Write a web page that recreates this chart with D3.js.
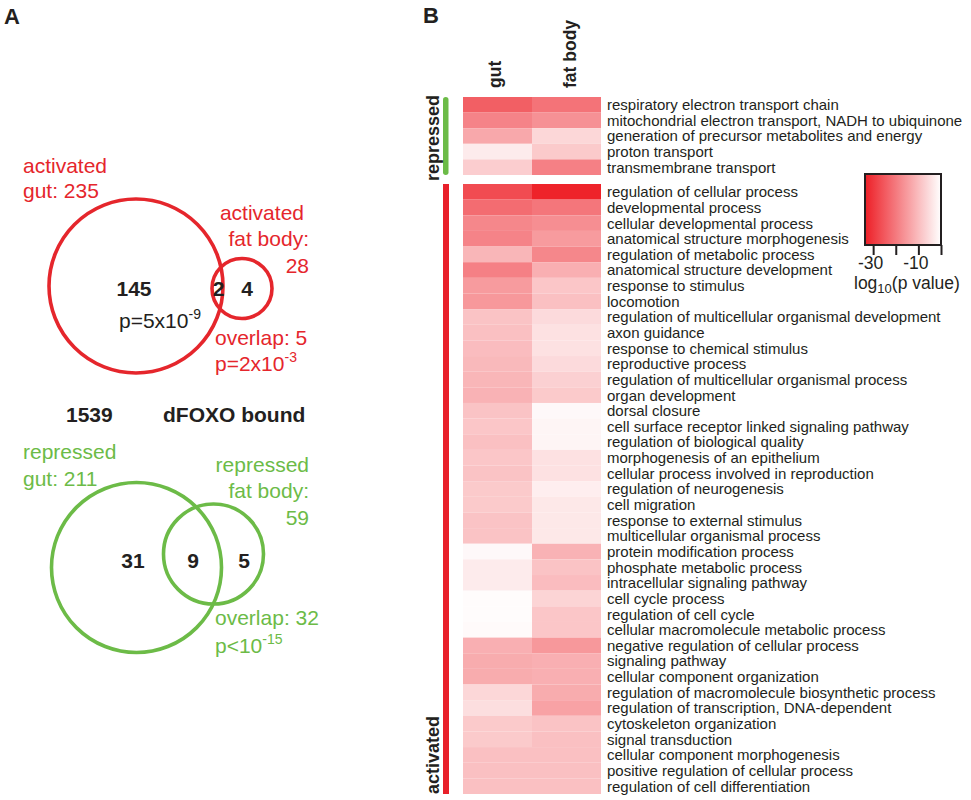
<!DOCTYPE html>
<html>
<head>
<meta charset="utf-8">
<script src="https://cdn.jsdelivr.net/npm/d3@7"></script>
<style>
  html, body { margin: 0; padding: 0; background: #ffffff; }
  svg { display: block; font-family: "Liberation Sans", Arial, Helvetica, sans-serif; }
</style>
</head>
<body>
<svg id="chart" width="971" height="800"></svg>
<script>
// ---------------- DATA ----------------
const columns = ["gut", "fat body"];

const repressedTerms = [
  "respiratory electron transport chain",
  "mitochondrial electron transport, NADH to ubiquinone",
  "generation of precursor metabolites and energy",
  "proton transport",
  "transmembrane transport"
];
const repressedGut = [-24, -18.5, -13, -3, -7.5];
const repressedFat = [-21, -16.5, -6, -8, -19];

const activatedTerms = [
  "regulation of cellular process",
  "developmental process",
  "cellular developmental process",
  "anatomical structure morphogenesis",
  "regulation of metabolic process",
  "anatomical structure development",
  "response to stimulus",
  "locomotion",
  "regulation of multicellular organismal development",
  "axon guidance",
  "response to chemical stimulus",
  "reproductive process",
  "regulation of multicellular organismal process",
  "organ development",
  "dorsal closure",
  "cell surface receptor linked signaling pathway",
  "regulation of biological quality",
  "morphogenesis of an epithelium",
  "cellular process involved in reproduction",
  "regulation of neurogenesis",
  "cell migration",
  "response to external stimulus",
  "multicellular organismal process",
  "protein modification process",
  "phosphate metabolic process",
  "intracellular signaling pathway",
  "cell cycle process",
  "regulation of cell cycle",
  "cellular macromolecule metabolic process",
  "negative regulation of cellular process",
  "signaling pathway",
  "cellular component organization",
  "regulation of macromolecule biosynthetic process",
  "regulation of transcription, DNA-dependent",
  "cytoskeleton organization",
  "signal transduction",
  "cellular component morphogenesis",
  "positive regulation of cellular process",
  "regulation of cell differentiation"
];
const activatedGut = [-27, -22, -18, -18.5, -11, -19, -15, -15.5, -9, -9.5, -10, -10.5, -11, -11.5,
  -9, -8.5, -9.5, -8.5, -9, -8, -8, -9, -9, -1, -3, -3, -0.5, -0.5, -0.8,
  -12, -12.5, -12.5, -6, -5, -8, -8, -9.5, -9.5, -9.5];
const activatedFat = [-33, -20.5, -17, -15, -18, -12, -8.5, -9.5, -5.5, -4.5, -4.5, -5.5, -7, -8,
  -1, -1.5, -1.5, -4.5, -4.5, -2.5, -3.5, -3.5, -3.5, -11.5, -9, -10, -6.5, -8.5, -8.5,
  -15.5, -12, -12, -12.5, -14, -9, -9.5, -9.5, -9.5, -9.5];

const legendTicks = [-30, -20, -10, 0];
const legendTickLabels = ["-30", "", "-10", ""];

// Venn diagrams
const activatedSetTotals = [235, 28];     // gut, fat body
const activatedRegionCounts = [145, 2, 4]; // gut only, both, fat only
const activatedOverlap = 5;
const repressedSetTotals = [211, 59];
const repressedRegionCounts = [31, 9, 5];
const repressedOverlap = 32;
const boundTotal = 1539;

// ---------------- STYLE / LAYOUT ----------------
const RED = "#e5262c";
const GREEN = "#6cbb47";
const INK = "#231f20";
const svg = d3.select("#chart");

// ---------------- PANEL A (Venn) ----------------
svg.append("text").attr("x", 4).attr("y", 24).attr("font-size", 22).attr("font-weight", "bold")
  .attr("fill", INK).text("A");

function sup(sel, base, supTxt, x, y, color) {
  const t = sel.append("text").attr("x", x).attr("y", y).attr("font-size", 21).attr("fill", color);
  t.append("tspan").text(base);
  t.append("tspan").attr("font-size", 14).attr("dy", -9).text(supTxt);
}

// activated venn
const actCircles = [
  {cx: 136, cy: 286, r: 87},
  {cx: 242, cy: 288.5, r: 30}
];
svg.selectAll("circle.act").data(actCircles).join("circle").attr("class", "act")
  .attr("cx", d => d.cx).attr("cy", d => d.cy).attr("r", d => d.r)
  .attr("fill", "none").attr("stroke", RED).attr("stroke-width", 3.6);

const gA = svg.append("g").attr("font-size", 21).attr("fill", RED);
gA.append("text").attr("x", 23).attr("y", 173).text("activated");
gA.append("text").attr("x", 23).attr("y", 198).text("gut: " + activatedSetTotals[0]);
gA.append("text").attr("x", 304).attr("y", 220).attr("text-anchor", "end").text("activated");
gA.append("text").attr("x", 309).attr("y", 246).attr("text-anchor", "end").text("fat body:");
gA.append("text").attr("x", 309).attr("y", 273).attr("text-anchor", "end").text(activatedSetTotals[1]);
gA.append("text").attr("x", 215).attr("y", 345).text("overlap: " + activatedOverlap);
sup(svg, "p=2x10", "-3", 215, 371, RED);

const actNumX = [134, 218.5, 247];
svg.selectAll("text.actn").data(activatedRegionCounts).join("text").attr("class", "actn")
  .attr("x", (d, i) => actNumX[i]).attr("y", 296).attr("text-anchor", "middle")
  .attr("font-size", 21).attr("font-weight", "bold").attr("fill", INK).text(d => d);
sup(svg, "p=5x10", "-9", 119, 328, INK);

// bound
svg.append("text").attr("x", 66).attr("y", 422).attr("font-size", 21).attr("font-weight", "bold")
  .attr("fill", INK).text(boundTotal);
svg.append("text").attr("x", 163).attr("y", 422).attr("font-size", 21).attr("font-weight", "bold")
  .attr("fill", INK).text("dFOXO bound");

// repressed venn
const repCircles = [
  {cx: 136.5, cy: 567.5, r: 85},
  {cx: 213.5, cy: 554, r: 50}
];
svg.selectAll("circle.rep").data(repCircles).join("circle").attr("class", "rep")
  .attr("cx", d => d.cx).attr("cy", d => d.cy).attr("r", d => d.r)
  .attr("fill", "none").attr("stroke", GREEN).attr("stroke-width", 3.6);

const gR = svg.append("g").attr("font-size", 21).attr("fill", GREEN);
gR.append("text").attr("x", 23).attr("y", 459).text("repressed");
gR.append("text").attr("x", 23).attr("y", 486).text("gut: " + repressedSetTotals[0]);
gR.append("text").attr("x", 309).attr("y", 472).attr("text-anchor", "end").text("repressed");
gR.append("text").attr("x", 309).attr("y", 498).attr("text-anchor", "end").text("fat body:");
gR.append("text").attr("x", 309).attr("y", 525).attr("text-anchor", "end").text(repressedSetTotals[1]);
gR.append("text").attr("x", 215).attr("y", 625).text("overlap: " + repressedOverlap);
sup(svg, "p<10", "-15", 215, 653, GREEN);

const repNumX = [133, 193, 244];
svg.selectAll("text.repn").data(repressedRegionCounts).join("text").attr("class", "repn")
  .attr("x", (d, i) => repNumX[i]).attr("y", 568).attr("text-anchor", "middle")
  .attr("font-size", 21).attr("font-weight", "bold").attr("fill", INK).text(d => d);

// ---------------- PANEL B (heatmap) ----------------
svg.append("text").attr("x", 423).attr("y", 23).attr("font-size", 22).attr("font-weight", "bold")
  .attr("fill", INK).text("B");

const color = d3.scaleLinear().domain([-34, 0]).range(["#ed1c24", "#ffffff"]).clamp(true);
const x = d3.scaleBand().domain(columns).range([463, 601]);
const yRep = d3.scaleBand().domain(repressedTerms).range([97, 175]);
const yAct = d3.scaleBand().domain(activatedTerms).range([184, 794]);

function cells(terms, gutVals, fatVals, y) {
  const rows = terms.map((t, i) => [
    {term: t, col: columns[0], v: gutVals[i]},
    {term: t, col: columns[1], v: fatVals[i]}
  ]).flat();
  svg.append("g").selectAll("rect").data(rows).join("rect")
    .attr("x", d => x(d.col)).attr("y", d => y(d.term))
    .attr("width", x.bandwidth()).attr("height", y.bandwidth())
    .attr("fill", d => color(d.v));
  svg.append("g").attr("font-size", 15).attr("fill", INK)
    .selectAll("text").data(terms).join("text")
    .attr("x", 607).attr("y", d => y(d) + y.bandwidth() / 2).attr("dy", "0.36em")
    .text(d => d);
}
cells(repressedTerms, repressedGut, repressedFat, yRep);
cells(activatedTerms, activatedGut, activatedFat, yAct);

// column headers
const headerX = [501, 576];
svg.append("g").selectAll("text").data(columns).join("text")
  .attr("transform", (d, i) => `translate(${headerX[i]},88) rotate(-90)`)
  .attr("font-size", 17.5).attr("font-weight", "bold").attr("fill", INK).text(d => d);

// group bars & labels
svg.append("rect").attr("x", 443).attr("y", yRep.range()[0]).attr("width", 5.5)
  .attr("height", yRep.range()[1] - yRep.range()[0]).attr("rx", 2.75).attr("fill", GREEN);
svg.append("rect").attr("x", 443).attr("y", yAct.range()[0]).attr("width", 6)
  .attr("height", yAct.range()[1] - yAct.range()[0]).attr("fill", "#e8202a");
svg.append("text").attr("transform", `translate(439,${(yRep.range()[0] + yRep.range()[1]) / 2 + 2}) rotate(-90)`)
  .attr("text-anchor", "middle").attr("font-size", 18).attr("font-weight", "bold").attr("fill", INK)
  .text("repressed");
svg.append("text").attr("transform", `translate(439,${yAct.range()[1]}) rotate(-90)`)
  .attr("text-anchor", "start").attr("font-size", 18).attr("font-weight", "bold").attr("fill", INK)
  .text("activated");

// legend
const lx = d3.scaleLinear().domain([-33.6, 0]).range([865, 941]);
const defs = svg.append("defs");
const grad = defs.append("linearGradient").attr("id", "lg").attr("x1", "0%").attr("x2", "100%");
d3.range(0, 1.0001, 0.1).forEach(t => {
  const v = lx.invert(865 + t * 76);
  grad.append("stop").attr("offset", (t * 100) + "%").attr("stop-color", color(v));
});
svg.append("rect").attr("x", 865).attr("y", 174).attr("width", 76).attr("height", 71)
  .attr("fill", "url(#lg)").attr("stroke", INK).attr("stroke-width", 2);
const axis = d3.axisBottom(lx).tickValues(legendTicks).tickSize(10)
  .tickFormat((d, i) => legendTickLabels[i]);
const ag = svg.append("g").attr("transform", "translate(0,245)").call(axis);
ag.select(".domain").remove();
ag.selectAll(".tick line").attr("stroke", INK).attr("stroke-width", 2);
ag.selectAll(".tick text").attr("font-size", 17.5).attr("fill", INK).attr("y", 12).attr("dy", "0.71em")
  .attr("dx", -3)
  .attr("font-family", "'Liberation Sans', Arial, Helvetica, sans-serif");
const lt = svg.append("text").attr("x", 854).attr("y", 289).attr("font-size", 17.5).attr("fill", INK);
lt.append("tspan").text("log");
lt.append("tspan").attr("font-size", 13).attr("dy", 4).text("10");
lt.append("tspan").attr("dy", -4).text("(p value)");
</script>
</body>
</html>
